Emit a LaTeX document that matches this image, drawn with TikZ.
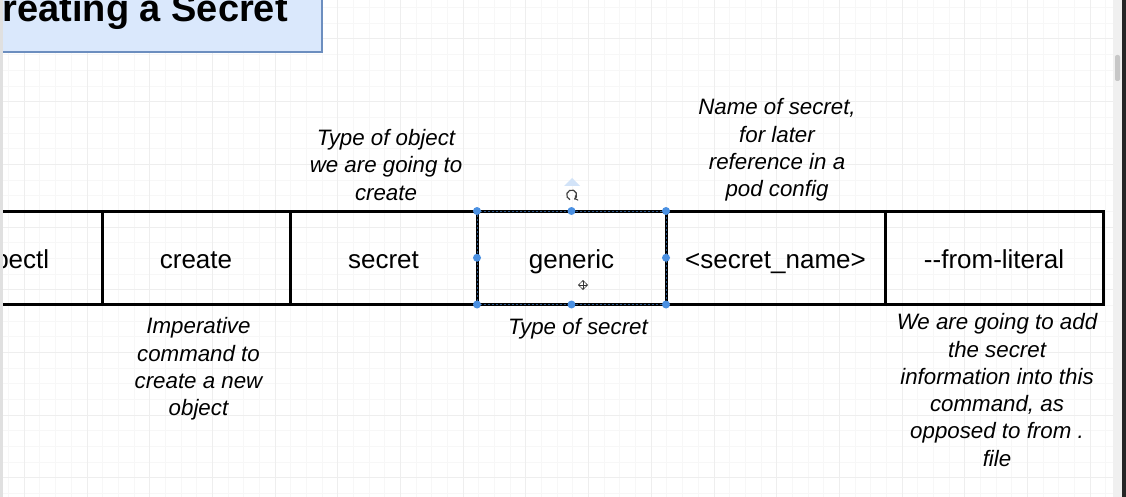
\documentclass[tikz,border=0pt]{standalone}
\usepackage{fontspec}
\setmainfont{Liberation Sans}
\usetikzlibrary{positioning}

\definecolor{titlefill}{HTML}{DAE8FC}
\definecolor{titleline}{HTML}{6C8EBF}
\definecolor{gridminor}{HTML}{F7F7F7}
\definecolor{gridmajor}{HTML}{EEEEEE}
\definecolor{handle}{HTML}{4A90E2}

\tikzset{
  cell/.style={draw, line width=3pt, outer sep=0pt, inner sep=0pt, minimum height=93.5pt,
    text height=24pt, text depth=2pt, font=\fontsize{26}{30}\selectfont},
  note/.style={align=center, inner sep=0pt, font=\fontsize{22.3}{27.3}\selectfont\itshape},
}

\begin{document}
\begin{tikzpicture}[x=1pt, y=-1pt]
        \useasboundingbox (0,0) rectangle (1126,497);
        \clip (0,0) rectangle (1126,497);
        \fill[white] (0,0) rectangle (1126,497);

        % Grid.
        \foreach \i in {-1,...,69} \draw[gridminor, line width=1pt] ({24.3+15.675*\i},0) -- ++(0,497);
        \foreach \i in {-2,...,29} \draw[gridminor, line width=1pt] (0,{39+15.675*\i}) -- ++(1126,0);
        \foreach \i in {0,...,17} \draw[gridmajor, line width=1pt] ({24.3+62.7*\i},0) -- ++(0,497);
        \foreach \i in {0,...,7} \draw[gridmajor, line width=1pt] (0,{39+62.7*\i}) -- ++(1126,0);

        % Title.
        \draw[titleline, fill=titlefill, line width=2pt] (-5,-5) rectangle (322,52);
        \node[anchor=base east, inner sep=0pt, font=\fontsize{38}{44}\selectfont\bfseries] (title) at (288,22) {Creating a Secret};

        % Command cells.
        \node[cell, minimum width=188pt] (kubectl) at (8,257.75) {kubectl};
        \node[cell, minimum width=188pt, right=0pt of kubectl] (create) {create};
        \node[cell, minimum width=187pt, right=0pt of create] (secret) {secret};
        \node[cell, minimum width=189pt, right=0pt of secret] (generic) {generic};
        \node[cell, minimum width=219pt, right=0pt of generic] (name) {<secret\_name>};
        \node[cell, minimum width=218pt, right=0pt of name] (literal) {-{}-from-literal};

        % Notes.
        \node[note] (objnote) at (386,165) {Type of object\\we are going to\\create};
        \node[note] (namenote) at (777,150) {Name of secret,\\for later\\reference in a\\pod config};
        \node[note] (cmdnote) at (198.5,369) {Imperative\\command to\\create a new\\object};
        \node[note] (typenote) at (578,329) {Type of secret};
        \node[note] (litnote) at (997,390) {We are going to add\\the secret\\information into this\\command, as\\opposed to from .\\file};

        % Selection.
        \draw[handle!60!black, line width=1pt, dash pattern=on 2pt off 2pt] (generic.north west) rectangle (generic.south east);
        \foreach \a in {north west, north, north east, east, south east, south, south west, west}
          \fill[handle] (generic.\a) circle (4pt);
        \fill[handle!25] (564,186) -- (572,178) -- (580,186) -- cycle;
        \draw[black!75, line width=1.2pt, ->] (571.7,195) ++(110:5) arc (110:420:5);
        \draw[black!80, line width=0.9pt, <->] (578,285) -- (588,285);
        \draw[black!80, line width=0.9pt, <->] (583,280) -- (583,290);

        % Edges of the window.
        \fill[black!12] (0,0) rectangle (3,497);
        \fill[black!6] (1113,0) rectangle (1122,497);
        \fill[black!85] (1122,0) rectangle (1126,497);
        \fill[black!22, rounded corners=2pt] (1115,55) rectangle (1120,81);
\end{tikzpicture}
\end{document}
